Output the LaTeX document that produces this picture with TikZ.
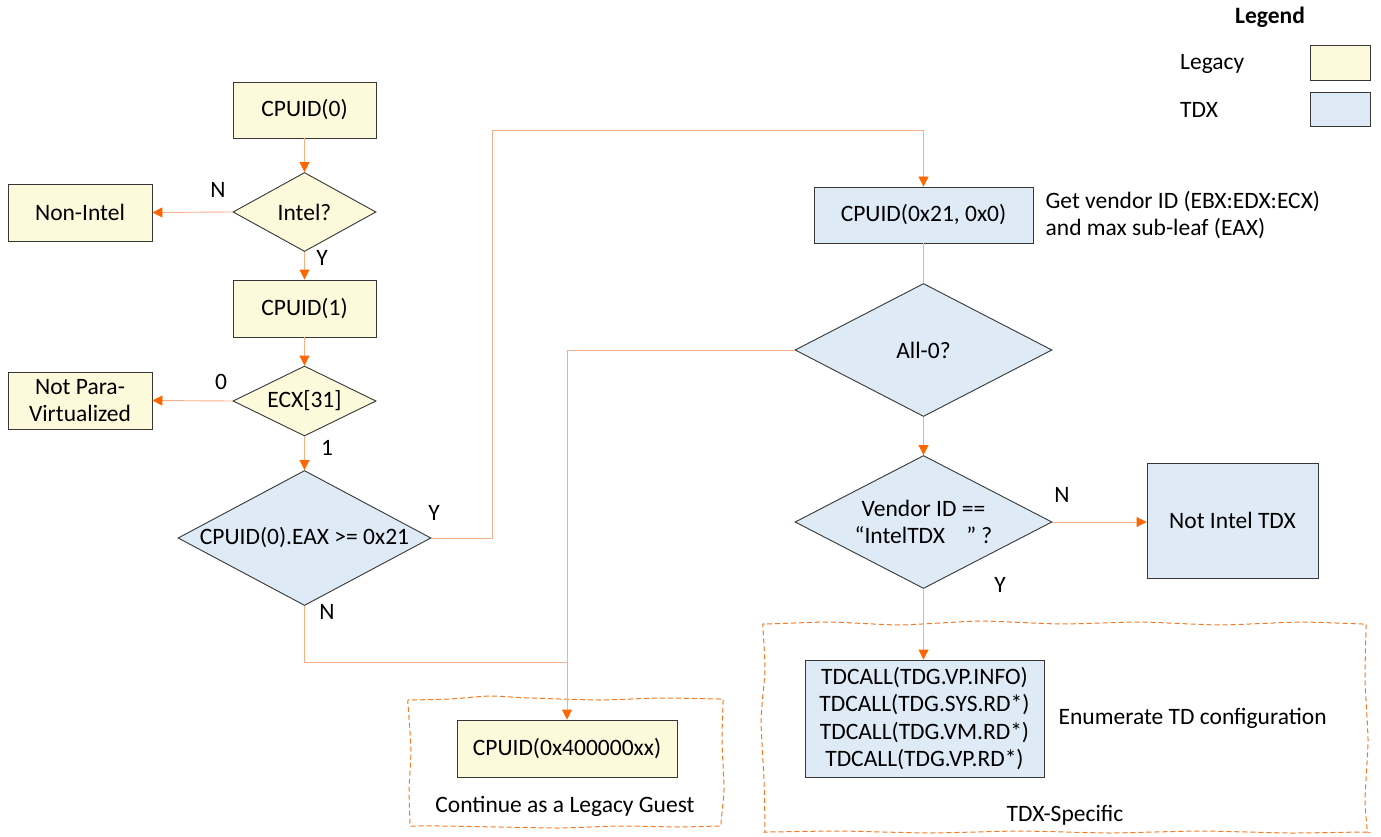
\documentclass[tikz,border=0pt]{standalone}
\usepackage{fontspec}
\setmainfont{Carlito}
\usetikzlibrary{positioning,arrows.meta,shapes.geometric}
\definecolor{legacyfill}{RGB}{253,249,219}
\definecolor{tdxfill}{RGB}{222,234,246}
\definecolor{edgegray}{RGB}{55,55,55}
\definecolor{wireorange}{RGB}{246,176,136}
\definecolor{tiporange}{RGB}{255,102,0}
\definecolor{grouporange}{RGB}{244,121,32}
\tikzset{
  every node/.style={font=\fontsize{23.5}{27.5}\selectfont},
  box/.style={draw=edgegray, line width=0.9pt, rectangle, inner sep=2pt, align=center},
  legacy/.style={box, fill=legacyfill},
  tdx/.style={box, fill=tdxfill},
  decision/.style={diamond, draw=edgegray, line width=0.9pt, inner sep=0pt, align=center},
  wire/.style={draw=wireorange, line width=0.9pt},
  flow/.style={wire, -{Triangle[length=10pt,width=10pt,color=tiporange]}},
  groupbox/.style={draw=grouporange, line width=1pt, dash pattern=on 5pt off 3pt},
  tag/.style={inner sep=0pt},
}

\begin{document}
\begin{tikzpicture}[x=1pt, y=-1pt]
\useasboundingbox (0,0) rectangle (1381,837);

% legacy column
\node[legacy, minimum width=143pt, minimum height=56pt] (cpuid0) at (304.5,110) {CPUID(0)};
\node[decision, fill=legacyfill, minimum width=143pt, minimum height=79pt, aspect=1.8] (intel) at (304.5,212) {Intel?};
\node[legacy, minimum width=144pt, minimum height=57pt] (nonintel) at (80,212.5) {Non-Intel};
\node[legacy, minimum width=143pt, minimum height=57pt] (cpuid1) at (304.5,308.5) {CPUID(1)};
\node[decision, fill=legacyfill, minimum width=143pt, minimum height=70pt, aspect=2] (ecx) at (304.5,401) {ECX[31]};
\node[legacy, minimum width=144pt, minimum height=57pt] (notpv) at (80,400.5) {Not Para-\\Virtualized};
\node[decision, fill=tdxfill, minimum width=253pt, minimum height=135pt, aspect=1.87, inner xsep=-8pt] (maxleaf) at (304.5,538) {CPUID(0).EAX >= 0x21};

% TDX column
\node[tdx, minimum width=219pt, minimum height=56pt] (vendorleaf) at (923.5,215) {CPUID(0x21, 0x0)};
\node[tag, align=left, right=12pt of vendorleaf] (vendornote) {Get vendor ID (EBX:EDX:ECX)\\and max sub-leaf (EAX)};
\node[decision, fill=tdxfill, minimum width=257pt, minimum height=133pt, aspect=1.93] (allzero) at (923.5,350) {All-0?};
\node[decision, fill=tdxfill, minimum width=257pt, minimum height=133pt, aspect=1.93] (vendorchk) at (923.5,522) {Vendor ID ==\\“IntelTDX\ \ \ \ ” ?};
\node[tdx, minimum width=171pt, minimum height=115pt] (nottdx) at (1232.5,520.5) {Not Intel TDX};
\node[tdx, minimum width=239pt, minimum height=117pt] (tdcall) at (924.5,718.5) {TDCALL(TDG.VP.INFO)\\TDCALL(TDG.SYS.RD*)\\TDCALL(TDG.VM.RD*)\\TDCALL(TDG.VP.RD*)};
\node[tag, right=14pt of tdcall] (enumnote) {Enumerate TD configuration};
\node[legacy, minimum width=220pt, minimum height=57pt] (legacyq) at (567,748.5) {CPUID(0x400000xx)};

% groups
\draw[groupbox] plot[smooth cycle, tension=0.3] coordinates {
  (408,700) (412,700) (450,699) (490,696) (530,698) (600,700) (660,698) (719,699) (723,699)
  (723,703) (722,740) (724,790) (721,822) (721,826)
  (717,826) (680,827) (620,826) (560,828) (500,827) (440,826) (413,826) (410,826)
  (410,822) (409,790) (411,750) (408,704)};
\node[tag] (legacylabel) at (565,806) {Continue as a Legacy Guest};
\draw[groupbox] plot[smooth cycle, tension=0.3] coordinates {
  (763,624) (767,624) (830,622) (900,625) (980,621) (1060,624) (1140,622) (1220,625) (1300,622) (1362,624) (1366,624)
  (1366,628) (1365,680) (1368,740) (1365,800) (1367,828) (1367,832)
  (1363,832) (1290,833) (1200,831) (1110,833) (1020,831) (930,833) (840,831) (769,832) (765,832)
  (765,828) (764,780) (761,720) (765,670) (763,628)};
\node[tag] (tdxlabel) at (1065,815) {TDX-Specific};

% legend
\node[tag, font=\fontsize{23.5}{27.5}\selectfont\bfseries] (legendtitle) at (1270,17) {Legend};
\node[tag, anchor=west] (legacykey) at (1180,64) {Legacy};
\node[legacy, minimum width=60pt, minimum height=35pt] (legacyswatch) at (1340,62.5) {};
\node[tag, anchor=west] (tdxkey) at (1180,110) {TDX};
\node[tdx, minimum width=60pt, minimum height=34pt] (tdxswatch) at (1340,109) {};

% branch labels
\node[tag] (intelno) at (218,190) {N};
\node[tag] (intelyes) at (322,258) {Y};
\node[tag] (ecxzero) at (221,382) {0};
\node[tag] (ecxone) at (327,448) {1};
\node[tag] (leafyes) at (434,513) {Y};
\node[tag] (leafno) at (327,612) {N};
\node[tag] (vendorno) at (1062,495) {N};
\node[tag] (vendoryes) at (1000,585) {Y};

% connectors
\coordinate (jog) at (492,130);
\coordinate (merge) at (567,662);
\draw[flow] (cpuid0) -- (intel);
\draw[flow] (intel.west) -- (nonintel.east);
\draw[flow] (intel.south) -- (cpuid1.north);
\draw[flow] (cpuid1) -- (ecx);
\draw[flow] (ecx.west) -- (notpv.east);
\draw[flow] (ecx.south) -- (maxleaf.north);
\draw[flow] (maxleaf.east) -| (jog) -| (vendorleaf.north);
\draw[wire] (maxleaf.south) |- (merge);
\draw[wire] (vendorleaf) -- (allzero);
\draw[flow] (allzero.west) -| (legacyq.north);
\draw[flow] (allzero) -- (vendorchk);
\draw[flow] (vendorchk.east) -- (vendorchk.east -| nottdx.west);
\draw[flow] (vendorchk.south) -- (vendorchk.south |- tdcall.north);

\end{tikzpicture}
\end{document}
